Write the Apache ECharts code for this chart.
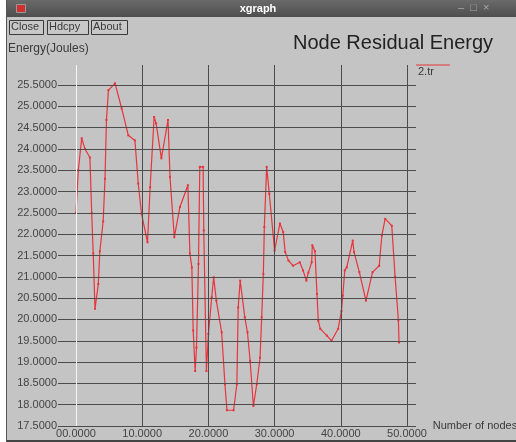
<!DOCTYPE html>
<html>
<head>
<meta charset="utf-8">
<script src="https://cdn.jsdelivr.net/npm/echarts@6/dist/echarts.min.js"></script>
<style>
html,body{margin:0;padding:0;background:#ffffff;}
#chart{width:516px;height:442px;}
</style>
</head>
<body>
<div id="chart"></div>
<script>
// ---- data ----
const xs = [0, 0.35, 0.86, 1.36, 2.1, 2.37, 2.6, 2.87, 3.37, 3.6, 4.1, 4.38, 4.6, 4.9, 5.9, 6.9, 7.9, 8.9, 9.4, 9.9,
  10.8, 11.2, 11.8, 12.1, 12.9, 13.9, 14.2, 14.85, 15.7, 16.9, 17.2, 17.5, 17.7, 18.0, 18.2, 18.5, 18.7, 19.2, 19.3, 19.7,
  20.0, 20.5, 20.8, 21.2, 22.0, 22.5, 22.8, 23.8, 24.3, 24.5, 24.8, 25.5, 25.9, 26.3, 26.8, 27.3, 27.8, 28.05, 28.3, 28.45,
  28.8, 29.2, 30.0, 30.8, 31.3, 31.6, 32.1, 32.8, 33.8, 34.3, 34.8, 35.1, 35.6, 35.7, 36.1, 36.4, 36.6, 36.9, 37.9, 38.6,
  39.6, 40.1, 40.3, 40.6, 40.9, 41.8, 42.0, 42.8, 43.8, 44.8, 45.8, 46.2, 46.7, 47.7, 48.2, 48.7, 48.8];
const ys = [22.5, 23.5, 24.25, 24.0, 23.8, 22.5, 21.55, 20.25, 20.83, 21.6, 22.3, 23.3, 24.68, 25.38, 25.54, 24.95, 24.32, 24.2, 23.19, 22.48,
  21.81, 23.1, 24.75, 24.6, 23.78, 24.68, 23.34, 21.93, 22.64, 23.15, 21.55, 21.22, 19.74, 18.79, 19.34, 21.3, 23.58, 23.58, 22.09, 18.79,
  19.66, 20.52, 20.99, 20.44, 19.7, 18.48, 17.87, 17.87, 18.48, 20.28, 20.91, 20.05, 19.7, 19.03, 17.97, 18.48, 19.1, 20.05, 21.07, 22.17,
  23.58, 22.95, 21.62, 22.25, 22.05, 21.58, 21.38, 21.26, 21.34, 21.15, 20.91, 21.1, 21.34, 21.74, 21.6, 20.6, 19.97, 19.78, 19.62, 19.5,
  19.78, 20.2, 20.56, 21.15, 21.22, 21.85, 21.58, 21.11, 20.44, 21.11, 21.26, 21.97, 22.36, 22.2, 21.0, 19.98, 19.46];
const xTicks = [0, 10, 20, 30, 40, 50];
const xTickLabels = ['00.0000', '10.0000', '20.0000', '30.0000', '40.0000', '50.0000'];
const yTicks = [17.5, 18.0, 18.5, 19.0, 19.5, 20.0, 20.5, 21.0, 21.5, 22.0, 22.5, 23.0, 23.5, 24.0, 24.5, 25.0, 25.5];
const yTickLabels = ['17.5000', '18.0000', '18.5000', '19.0000', '19.5000', '20.0000', '20.5000', '21.0000', '21.5000',
  '22.0000', '22.5000', '23.0000', '23.5000', '24.0000', '24.5000', '25.0000', '25.5000'];
const seriesName = '2.tr';
const chartTitle = 'Node Residual Energy';
const windowTitle = 'xgraph';
const yName = 'Energy(Joules)';
const xName = 'Number of nodes';
const buttons = ['Close', 'Hdcpy', 'About'];

// ---- build ----
const pts = xs.map((x, i) => [x, ys[i]]);
const gridColor = '#4c4c4c';
const bg = '#c4c4c4';
const font = 'Liberation Sans';
const txt = '#3a3a3a';

const gridLines = [];
yTicks.forEach(v => gridLines.push({ yAxis: v }));
xTicks.forEach(v => gridLines.push(v === 0 ? { xAxis: v, lineStyle: { color: '#f4f4f4', width: 1 } } : { xAxis: v }));

const btnX = [9, 47, 91];
const btnW = [34, 41, 36];
const graphics = [
  { type: 'rect', left: 7, top: 0, shape: { width: 509, height: 442 }, style: { fill: bg }, z: -10 },
  { type: 'rect', left: 7, top: 0, shape: { width: 509, height: 17 }, style: { fill: new echarts.graphic.LinearGradient(0, 0, 0, 1, [{ offset: 0, color: '#6a6a6a' }, { offset: 1, color: '#4e4e4e' }]) }, z: -9 },
  { type: 'rect', left: 16, top: 4, shape: { width: 9, height: 8 }, style: { fill: '#d03030', stroke: '#999', lineWidth: 1 } },
  { type: 'text', left: 'center', top: 3, style: { text: windowTitle, fill: '#ffffff', font: 'bold 11px ' + font } },
  { type: 'text', left: 458, top: 2, style: { text: '\u2013  \u25a1  \u00d7', fill: '#a8a8a8', font: '11px ' + font } },
  { type: 'rect', left: 7, top: 440, shape: { width: 509, height: 2 }, style: { fill: '#444' } },
  { type: 'rect', left: 6, top: 0, shape: { width: 1, height: 442 }, style: { fill: '#555' } },
  { type: 'text', left: 8, top: 43, style: { text: yName, fill: txt, font: '12px ' + font } },
  { type: 'line', shape: { x1: 416, y1: 65, x2: 450, y2: 65 }, style: { stroke: '#e8343c', lineWidth: 1 } },
  { type: 'text', left: 418, top: 66, style: { text: seriesName, fill: txt, font: '11px ' + font } }
];
buttons.forEach((b, i) => {
  graphics.push({ type: 'rect', left: btnX[i], top: 20, shape: { width: btnW[i], height: 14 }, style: { fill: '#c8c8c8', stroke: '#3a3a3a', lineWidth: 1 } });
  graphics.push({ type: 'text', left: btnX[i] + 2, top: 21, style: { text: b, fill: txt, font: '11px ' + font } });
});

const chart = echarts.init(document.getElementById('chart'), null, { renderer: 'canvas' });
chart.setOption({
  animation: false,
  backgroundColor: '#ffffff',
  title: {
    text: chartTitle, left: 288, top: 28,
    textStyle: { fontFamily: font, fontSize: 20, fontWeight: 'normal', color: '#222' }
  },
  graphic: graphics,
  grid: { left: 58, right: 100, top: 65, bottom: 16, containLabel: false, outerBoundsMode: 'none' },
  xAxis: {
    type: 'value', min: -2.72, max: 51.36,
    name: xName, nameLocation: 'end', nameGap: 8,
    nameTextStyle: { fontFamily: font, fontSize: 11, color: txt, verticalAlign: 'middle', align: 'left' },
    axisLine: { show: false }, axisTick: { show: false }, splitLine: { show: false },
    axisLabel: {
      customValues: xTicks, margin: 2, fontFamily: font, fontSize: 11, color: '#444',
      formatter: v => xTickLabels[xTicks.indexOf(v)] || ''
    }
  },
  yAxis: {
    type: 'value', min: 17.5, max: 25.97,
    axisLine: { show: false }, axisTick: { show: false }, splitLine: { show: false },
    axisLabel: {
      customValues: yTicks, margin: 1, fontFamily: font, fontSize: 11, color: '#444',
      formatter: v => yTickLabels[yTicks.indexOf(v)] || ''
    }
  },
  series: [
    {
      type: 'line', data: [], z: 1, silent: true,
      markLine: {
        silent: true, symbol: ['none', 'none'], label: { show: false }, animation: false,
        lineStyle: { color: gridColor, width: 1, type: 'solid' },
        emphasis: { disabled: true },
        data: gridLines
      }
    },
    {
      name: seriesName, type: 'line', data: pts, z: 3,
      symbol: 'rect', symbolSize: 2, showSymbol: true,
      lineStyle: { color: '#e8343c', width: 1.2 },
      itemStyle: { color: '#e8343c' }
    }
  ]
});
</script>
</body>
</html>
